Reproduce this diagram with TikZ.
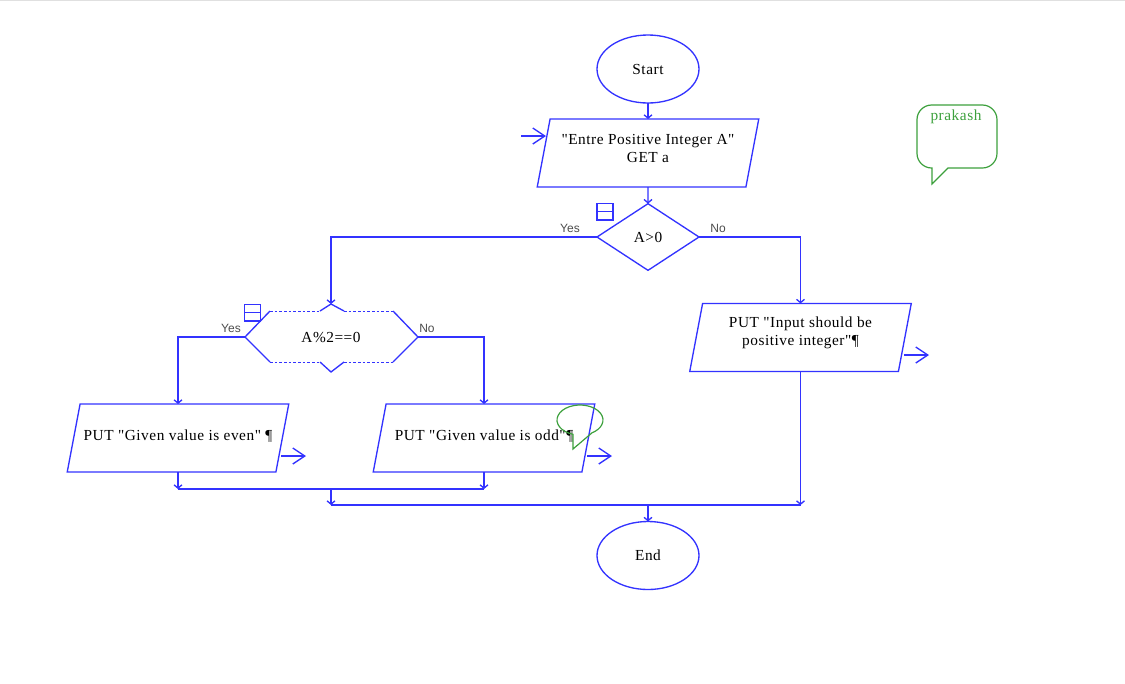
\documentclass[tikz,border=0pt]{standalone}
\usepackage{fontspec}
\setsansfont{Liberation Sans}
\newfontfamily\flowfont[LetterSpace=3.5]{Liberation Serif}
\usepackage{xcolor}
\usepackage{tikz}
\usetikzlibrary{shapes.geometric, arrows.meta, positioning}
\definecolor{flowblue}{RGB}{51,51,255}
\definecolor{notegreen}{RGB}{60,160,60}

\begin{document}
\begin{tikzpicture}[
  x=0.75pt, y=-0.75pt,
  terminal/.style={ellipse, draw=flowblue, line width=1pt, minimum width=76.5pt, minimum height=51pt, inner sep=0pt, outer sep=0pt, font=\flowfont\fontsize{11.5}{14}\selectfont},
  iobox/.style={trapezium, trapezium left angle=80, trapezium right angle=100, trapezium stretches=true, draw=flowblue, line width=1pt, minimum width=166.5pt, minimum height=51pt, inner sep=0pt, outer sep=0pt},
  iotext/.style={align=center, inner sep=0pt, font=\flowfont\fontsize{11.5}{13.5}\selectfont},
  decision/.style={diamond, draw=flowblue, line width=1pt, minimum width=76.5pt, minimum height=50pt, aspect=1.5, inner sep=0pt, outer sep=0pt, font=\flowfont\fontsize{11.5}{14}\selectfont},
  flow/.style={draw=flowblue, line width=1pt},
  tip/.style={flow, -{Straight Barb[length=2.5pt, width=6pt]}},
  port/.style={flow, -{Straight Barb[length=9pt, width=12pt]}},
  answer/.style={font=\sffamily\fontsize{9}{11}\selectfont, inner sep=0pt, text=black!70},
  note/.style={draw=notegreen, line width=0.9pt},
  fold/.style={draw=flowblue, line width=1pt, minimum width=12pt, minimum height=12.5pt, inner sep=0pt, outer sep=0pt}
]
  \useasboundingbox (0,0) rectangle (1125,683);
  \draw[black!12, line width=1pt] (0,0.5) -- (1125,0.5);

  % Main column
  \node[terminal] (start) at (648,69) {Start};
  \node[iobox, label={[iotext, yshift=3.75pt]center:"Entre Positive Integer A"\\GET a}] (getval) at (648,153) {\phantom{MM}};
  \node[decision] (posck) at (648,237) {A>0};
  \node[terminal] (finish) at (648,555.5) {End};

  % Right branch
  \node[iobox, label={[iotext, yshift=3.5pt]center:PUT "Input should be\\positive integer"¶}] (badmsg) at (800.5,337.5) {\phantom{MM}};

  % Left branch
  \node[inner sep=0pt, font=\flowfont\fontsize{11.5}{14}\selectfont] (parity) at (331,337) {A\%2==0};
  \node[iobox, label={[iotext, yshift=1.5pt]center:PUT "Given value is even" ¶}] (evenmsg) at (178,438) {\phantom{MM}};
  \node[iobox, label={[iotext, yshift=1.5pt]center:PUT "Given value is odd"¶}] (oddmsg) at (484,438) {\phantom{MM}};

  % Parity test outline
  \coordinate (parl) at (245,337);
  \coordinate (parr) at (418,337);
  \coordinate (part) at (331,304);
  \draw[flow] (344,311) -- (part) -- (320,311);
  \draw[flow] (320,362) -- (331,372) -- (344,362);
  \draw[flow] (270,311) -- (parl) -- (270,362);
  \draw[flow] (393,311) -- (parr) -- (393,362);
  \draw[flow, line width=0.7pt, dash pattern=on 2pt off 1.5pt] (270,311) -- (320,311) (344,311) -- (393,311);
  \draw[flow, line width=0.7pt, dash pattern=on 2pt off 1.5pt] (270,362) -- (320,362) (344,362) -- (393,362);

  % Junctions
  \coordinate (joinlow) at (331,489);
  \coordinate (joinend) at (648,505);

  % Data flow
  \draw[tip] (start) -- (getval);
  \draw[tip] (getval) -- (posck);
  \draw[tip] (posck.west) -| (part);
  \draw[tip] (posck.east) -| (badmsg.north);
  \draw[tip] (parl) -| (evenmsg.north);
  \draw[tip] (parr) -| (oddmsg.north);
  \draw[tip] (evenmsg.south) -- (evenmsg.south |- joinlow);
  \draw[tip] (oddmsg.south) -- (oddmsg.south |- joinlow);
  \draw[flow] (evenmsg.south |- joinlow) -- (oddmsg.south |- joinlow);
  \draw[tip] (joinlow) -- (joinlow |- joinend);
  \draw[tip] (badmsg.south) -- (badmsg.south |- joinend);
  \draw[flow] (joinlow |- joinend) -- (badmsg.south |- joinend);
  \draw[tip] (joinend) -- (finish);

  % Input and output ports
  \coordinate (getin) at (521,136);
  \coordinate (badout) at (929,355);
  \coordinate (evenout) at (306,456);
  \coordinate (oddout) at (612,456);
  \draw[port] (getin) -- (546,136);
  \draw[port] (904,355) -- (badout);
  \draw[port] (281,456) -- (evenout);
  \draw[port] (587,456) -- (oddout);

  % Fold markers
  \node[fold] (foldtop) at (605,211.5) {};
  \draw[flow] (foldtop.west) -- (foldtop.east);
  \node[fold] (foldpar) at (252.5,312.5) {};
  \draw[flow] (foldpar.west) -- (foldpar.east);

  % Branch labels
  \node[answer] (yestop) at (570,228) {Yes};
  \node[answer] (notop) at (718,228) {No};
  \node[answer] (yespar) at (231,328.5) {Yes};
  \node[answer] (nopar) at (427,328.5) {No};

  % Comments
  \draw[note] (948,168) [rounded corners=11pt] -- (997,168) -- (997,105) -- (917,105) -- (917,168) [sharp corners] -- (932,168) -- (932,184) -- cycle;
  \node[inner sep=0pt, text=notegreen, font=\flowfont\fontsize{11.5}{14}\selectfont] (author) at (956,117) {prakash};
  \draw[note] (573,449) -- (573,434.3) arc[start angle=107.7, end angle=418.5, x radius=23, y radius=15] -- cycle;
\end{tikzpicture}
\end{document}
